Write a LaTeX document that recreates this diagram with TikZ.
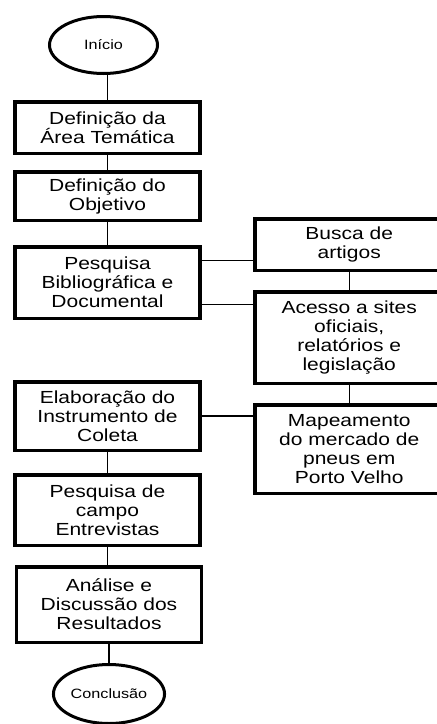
\documentclass[tikz,border=0pt]{standalone}
\usepackage{fontspec}
\setmainfont{Liberation Sans}[FakeStretch=1.2]
\usetikzlibrary{shapes.geometric,positioning,calc}

\begin{document}
\begin{tikzpicture}[x=1pt,y=1pt,
  every node/.style={align=center,font=\fontsize{17.5}{19}\selectfont},%
  bx/.style={draw,line width=3.5pt,minimum width=185pt,inner sep=2pt},%
  rbx/.style={draw,line width=3.5pt,minimum width=189pt,inner sep=2pt},%
  el/.style={ellipse,draw,line width=3pt,inner sep=1pt,%
    font=\fontsize{13.5}{15}\selectfont},%
  ln/.style={line width=1.3pt},%
  ]
  \useasboundingbox (0,0) rectangle (437,-724);

  \node (area) [bx,minimum height=51.5pt] at (107.5,-127.5) {Definição da\\Área Temática};
  \node (inicio) [el,above=25pt of area,xshift=-4pt,minimum width=108pt,minimum height=57pt] {Início};
  \node (obj) [bx,below=15pt of area,minimum height=48.5pt] {Definição do\\Objetivo};
  \node (pesq) [bx,below=23pt of obj,minimum height=71.5pt] {Pesquisa\\Bibliográfica e\\Documental};
  \node (elab) [bx,below=60pt of pesq,minimum height=68.5pt] {Elaboração do\\Instrumento de\\Coleta};
  \node (campo) [bx,below=21pt of elab,minimum height=70.5pt] {Pesquisa de\\campo\\Entrevistas};
  \node (anal) [bx,below=18pt of campo,minimum height=75.5pt,xshift=1.5pt] {Análise e\\Discussão dos\\Resultados};
  \node (fim) [el,below=19pt of anal,minimum width=105pt,minimum height=59pt] {Conclusão};

  \node (busca) [rbx,minimum height=51.5pt] at (349.25,-244.5) {Busca de\\artigos};
  \node (sites) [rbx,below=18pt of busca,minimum height=91.5pt] {Acesso a sites\\oficiais,\\relatórios e\\legislação};
  \node (mapa) [rbx,below=18pt of sites,minimum height=88.5pt] {Mapeamento\\do mercado de\\pneus em\\Porto Velho};

  \draw [ln] (area.north) -- (area.north |- inicio.south);
  \draw [ln] (area) -- (obj);
  \draw [ln] (obj) -- (pesq);
  \draw [ln] (elab) -- (campo);
  \draw [ln] (campo.south) -- (campo.south |- anal.north);
  \draw [ln] (anal) -- (fim);
  \draw [ln] (busca) -- (sites);
  \draw [ln] (sites) -- (mapa);
  \coordinate (pa) at ($(pesq.north east)!0.21!(pesq.south east)$);
  \coordinate (pb) at ($(pesq.north east)!0.79!(pesq.south east)$);
  \draw [ln] (pa) -- (pa -| busca.west);
  \draw [ln] (pb) -- (pb -| sites.west);
  \draw [ln] (elab.east) -- (elab.east -| mapa.west);
\end{tikzpicture}
\end{document}
